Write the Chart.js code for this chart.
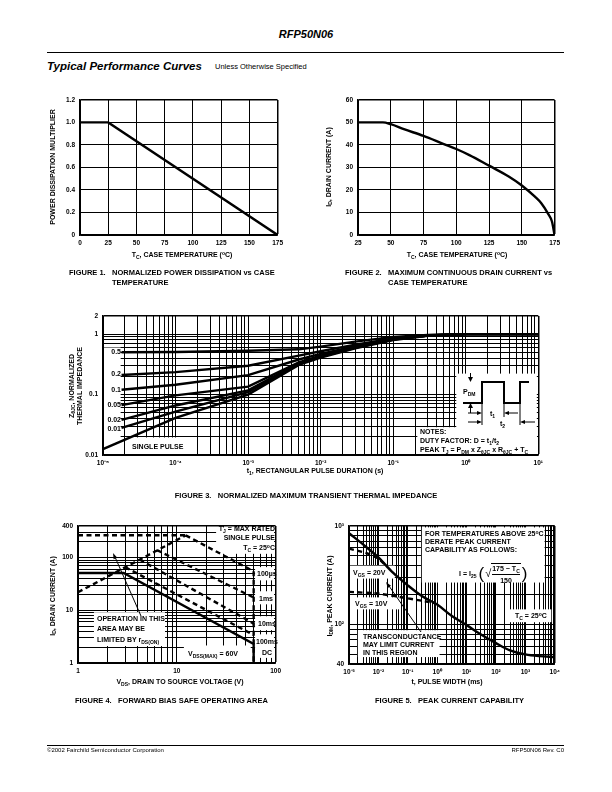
<!DOCTYPE html>
<html>
<head>
<meta charset="utf-8">
<script src="https://cdn.jsdelivr.net/npm/chart.js@4.4.1/dist/chart.umd.min.js"></script>
<style>
  body { margin: 0; background: #fff; }
  #page { position: relative; width: 612px; height: 792px; overflow: hidden; background: #fff;
          font-family: 'Liberation Sans', Arial, Helvetica, sans-serif; color: #000; }
  .t { position: absolute; font-weight: bold; font-size: 7px; line-height: 1; white-space: nowrap; }
  .c { transform: translateX(-50%); }
  .r { transform: translateX(-100%); }
  .v { transform: translate(-50%, -50%) rotate(-90deg); }
  .cap { position: absolute; display: flex; font-weight: bold; font-size: 7.5px; line-height: 10px; white-space: nowrap; }
  .cap .fn { width: 43px; }
  sub { font-size: 0.72em; vertical-align: -0.3em; line-height: 0; }
  sup { font-size: 0.72em; vertical-align: 0.45em; line-height: 0; }
  canvas { position: absolute; }
  svg { position: absolute; left: 0; top: 0; }
  .hr { position: absolute; left: 47px; width: 517px; background: #000; }
</style>
</head>
<body>
<div id="page">
  <div class="t c" style="left:306px;top:29px;font-size:11px;font-style:italic;">RFP50N06</div>
  <div class="hr" style="top:52px;height:1.2px;"></div>
  <div class="t" style="left:47px;top:60.5px;font-size:11.5px;font-style:italic;">Typical Performance Curves</div>
  <div class="t" style="left:215px;top:63px;font-size:7.5px;font-weight:normal;">Unless Otherwise Specified</div>

  <canvas id="fig1"></canvas>
  <canvas id="fig2"></canvas>
  <canvas id="fig3"></canvas>
  <canvas id="fig4"></canvas>
  <canvas id="fig5"></canvas>

  <svg width="612" height="792">
    <!-- pulse sketch in figure 3 -->
    <polyline points="463,403 482,403 482,382 504,382 504,403 520,403 520,382 529,382" fill="none" stroke="#000" stroke-width="2"/>
    <line x1="470.5" y1="373" x2="470.5" y2="379" stroke="#000" stroke-width="1"/>
    <polygon points="468,377 473,377 470.5,382" fill="#000"/>
    <line x1="470.5" y1="413" x2="470.5" y2="407" stroke="#000" stroke-width="1"/>
    <polygon points="468,408 473,408 470.5,403" fill="#000"/>
    <line x1="482" y1="403" x2="482" y2="425" stroke="#000" stroke-width="1"/>
    <line x1="504" y1="403" x2="504" y2="417" stroke="#000" stroke-width="1"/>
    <line x1="520" y1="403" x2="520" y2="425" stroke="#000" stroke-width="1"/>
    <line x1="468" y1="413" x2="478" y2="413" stroke="#000" stroke-width="1"/>
    <polygon points="477,411 482,413 477,415" fill="#000"/>
    <line x1="508" y1="413" x2="518" y2="413" stroke="#000" stroke-width="1"/>
    <polygon points="509,411 504,413 509,415" fill="#000"/>
    <line x1="468" y1="422" x2="478" y2="422" stroke="#000" stroke-width="1"/>
    <polygon points="477,420 482,422 477,424" fill="#000"/>
    <line x1="524" y1="422" x2="535" y2="422" stroke="#000" stroke-width="1"/>
    <polygon points="525,420 520,422 525,424" fill="#000"/>
    <!-- arrows -->
    <line x1="141" y1="616" x2="115" y2="557" stroke="#000" stroke-width="1"/>
    <polygon points="113,553 117.3,557.7 113.6,559.3" fill="#000"/>
    <line x1="421" y1="632" x2="389" y2="586" stroke="#000" stroke-width="1"/>
    <polygon points="386,582 391,585.8 387.8,588.1" fill="#000"/>
  </svg>

  <!-- figure 1 -->
  <div class="t v" style="left:52px;top:167px;">POWER DISSIPATION MULTIPLIER</div>
  <div class="t c" style="left:182px;top:251px;">T<sub>C</sub>, CASE TEMPERATURE (<sup>o</sup>C)</div>
  <div class="cap" style="left:69px;top:268px;"><span class="fn">FIGURE 1.</span><span>NORMALIZED POWER DISSIPATION vs CASE<br>TEMPERATURE</span></div>

  <!-- figure 2 -->
  <div class="t v" style="left:328px;top:167px;">I<sub>D</sub>, DRAIN CURRENT (A)</div>
  <div class="t c" style="left:457px;top:251px;">T<sub>C</sub>, CASE TEMPERATURE (<sup>o</sup>C)</div>
  <div class="cap" style="left:345px;top:268px;"><span class="fn">FIGURE 2.</span><span>MAXIMUM CONTINUOUS DRAIN CURRENT vs<br>CASE TEMPERATURE</span></div>

  <!-- figure 3 -->
  <div class="t v" style="left:71px;top:386px;">Z<sub>θJC</sub>, NORMALIZED</div>
  <div class="t v" style="left:79px;top:386px;">THERMAL IMPEDANCE</div>
  <div class="t r" style="left:121px;top:348px;">0.5</div>
  <div class="t r" style="left:121px;top:370px;">0.2</div>
  <div class="t r" style="left:121px;top:386px;">0.1</div>
  <div class="t r" style="left:121px;top:400.5px;">0.05</div>
  <div class="t r" style="left:121px;top:416px;">0.02</div>
  <div class="t r" style="left:121px;top:424.5px;">0.01</div>
  <div class="t" style="left:132px;top:442.5px;">SINGLE PULSE</div>
  <div class="t" style="left:463px;top:387.5px;">P<sub>DM</sub></div>
  <div class="t" style="left:490px;top:410px;">t<sub>1</sub></div>
  <div class="t" style="left:500px;top:420px;">t<sub>2</sub></div>
  <div class="t" style="left:420px;top:427.5px;">NOTES:</div>
  <div class="t" style="left:420px;top:436.5px;">DUTY FACTOR: D = t<sub>1</sub>/t<sub>2</sub></div>
  <div class="t" style="left:420px;top:445.5px;">PEAK T<sub>J</sub> = P<sub>DM</sub> x Z<sub>θJC</sub> x R<sub>θJC</sub> + T<sub>C</sub></div>
  <div class="t c" style="left:315px;top:467px;">t<sub>1</sub>, RECTANGULAR PULSE DURATION (s)</div>
  <div class="cap" style="left:306px;top:491px;transform:translateX(-50%);"><span class="fn">FIGURE 3.</span><span>NORMALIZED MAXIMUM TRANSIENT THERMAL IMPEDANCE</span></div>

  <!-- figure 4 -->
  <div class="t v" style="left:52px;top:596px;">I<sub>D</sub>, DRAIN CURRENT (A)</div>
  <div class="t r" style="left:275px;top:524.5px;">T<sub>J</sub> = MAX RATED</div>
  <div class="t r" style="left:275px;top:533.5px;">SINGLE PULSE</div>
  <div class="t r" style="left:275px;top:543.5px;">T<sub>C</sub> = 25<sup>o</sup>C</div>
  <div class="t" style="left:257px;top:569.5px;">100µs</div>
  <div class="t" style="left:259px;top:594.5px;">1ms</div>
  <div class="t" style="left:258px;top:619.5px;">10ms</div>
  <div class="t" style="left:256px;top:637.5px;">100ms</div>
  <div class="t" style="left:262px;top:648.5px;">DC</div>
  <div class="t" style="left:97px;top:614.5px;">OPERATION IN THIS</div>
  <div class="t" style="left:97px;top:624.5px;">AREA MAY BE</div>
  <div class="t" style="left:97px;top:635.5px;">LIMITED BY r<sub>DS(ON)</sub></div>
  <div class="t" style="left:188px;top:649.5px;">V<sub>DSS(MAX)</sub> = 60V</div>
  <div class="t c" style="left:180px;top:678px;">V<sub>DS</sub>, DRAIN TO SOURCE VOLTAGE (V)</div>
  <div class="cap" style="left:75px;top:696px;"><span class="fn">FIGURE 4.</span><span>FORWARD BIAS SAFE OPERATING AREA</span></div>

  <!-- figure 5 -->
  <div class="t v" style="left:329px;top:596px;">I<sub>DM</sub>, PEAK CURRENT (A)</div>
  <div class="t" style="left:425px;top:529.5px;">FOR TEMPERATURES ABOVE 25<sup>o</sup>C</div>
  <div class="t" style="left:425px;top:537.5px;">DERATE PEAK CURRENT</div>
  <div class="t" style="left:425px;top:545.5px;">CAPABILITY AS FOLLOWS:</div>
  <div class="t" style="left:459px;top:563px;display:flex;align-items:center;">
    <span>I = I<sub>25</sub></span>
    <span style="font-size:17px;font-weight:normal;margin:0 1px 0 2px;">(</span>
    <span style="font-size:11px;font-weight:normal;">√</span>
    <span style="display:inline-flex;flex-direction:column;align-items:center;border-top:0.8px solid #000;padding:1px 1px 0;">
      <span>175 − T<sub>C</sub></span>
      <span style="border-top:0.8px solid #000;padding-top:2px;margin-top:2px;width:100%;text-align:center;">150</span>
    </span>
    <span style="font-size:17px;font-weight:normal;margin-left:1px;">)</span>
  </div>
  <div class="t" style="left:353px;top:568.5px;">V<sub>GS</sub> = 20V</div>
  <div class="t" style="left:355px;top:599.5px;">V<sub>GS</sub> = 10V</div>
  <div class="t" style="left:515px;top:611.5px;">T<sub>C</sub> = 25<sup>o</sup>C</div>
  <div class="t" style="left:363px;top:632.5px;">TRANSCONDUCTANCE</div>
  <div class="t" style="left:363px;top:640.5px;">MAY LIMIT CURRENT</div>
  <div class="t" style="left:363px;top:648.5px;">IN THIS REGION</div>
  <div class="t c" style="left:447px;top:678px;">t, PULSE WIDTH (ms)</div>
  <div class="cap" style="left:375px;top:696px;"><span class="fn">FIGURE 5.</span><span>PEAK CURRENT CAPABILITY</span></div>

  <div class="hr" style="top:745px;height:1px;"></div>
  <div class="t" style="left:47px;top:747px;font-size:6px;font-weight:normal;">©2002 Fairchild Semiconductor Corporation</div>
  <div class="t r" style="left:564px;top:747px;font-size:6px;font-weight:normal;">RFP50N06 Rev. C0</div>
</div>

<script>
// ---- figure 1: power derating
const fig1Temp = [0, 25, 175];
const fig1Mult = [1.0, 1.0, 0];
const fig1XTicks = [0, 25, 50, 75, 100, 125, 150, 175];
const fig1XLabels = ['0', '25', '50', '75', '100', '125', '150', '175'];
const fig1YTicks = [0, 0.2, 0.4, 0.6, 0.8, 1.0, 1.2];
const fig1YLabels = ['0', '0.2', '0.4', '0.6', '0.8', '1.0', '1.2'];

// ---- figure 2: drain current vs case temperature
const fig2Temp = [25, 44, 50, 60, 75, 90, 100, 110, 125, 140, 150, 160, 165, 170, 173, 175];
const fig2Id = [50, 50, 49.2, 47, 44, 40.5, 38.2, 35.5, 30.8, 26, 22, 17, 14, 9.5, 6, 0];
const fig2XTicks = [25, 50, 75, 100, 125, 150, 175];
const fig2XLabels = ['25', '50', '75', '100', '125', '150', '175'];
const fig2YTicks = [0, 10, 20, 30, 40, 50, 60];
const fig2YLabels = ['0', '10', '20', '30', '40', '50', '60'];

// ---- figure 3: transient thermal impedance
const fig3Time = [1.8e-5, 1e-4, 1e-3, 5e-3, 1e-2, 3e-2, 1e-1, 3e-1, 1, 10];
const fig3D05 = [0.50, 0.505, 0.53, 0.56, 0.62, 0.75, 0.90, 0.97, 1.0, 1.0];
const fig3D02 = [0.21, 0.235, 0.30, 0.44, 0.52, 0.67, 0.85, 0.96, 1.0, 1.0];
const fig3D01 = [0.12, 0.145, 0.21, 0.38, 0.47, 0.63, 0.83, 0.95, 1.0, 1.0];
const fig3D005 = [0.067, 0.097, 0.135, 0.34, 0.44, 0.61, 0.82, 0.95, 1.0, 1.0];
const fig3D002 = [0.038, 0.066, 0.117, 0.33, 0.43, 0.60, 0.82, 0.95, 1.0, 1.0];
const fig3D001 = [0.028, 0.052, 0.11, 0.32, 0.42, 0.59, 0.81, 0.95, 1.0, 1.0];
const fig3SingleTime = [1e-5, 1e-4, 1e-3, 5e-3, 1e-2, 3e-2, 1e-1, 3e-1, 1, 10];
const fig3Single = [0.0125, 0.041, 0.10, 0.31, 0.41, 0.58, 0.80, 0.94, 1.0, 1.0];
const fig3XLabelVals = [1e-5, 1e-4, 1e-3, 1e-2, 1e-1, 1, 10];
const fig3XLabels = ['10⁻⁵', '10⁻⁴', '10⁻³', '10⁻²', '10⁻¹', '10⁰', '10¹'];
const fig3YLabelVals = [0.01, 0.1, 1, 2];
const fig3YLabels = ['0.01', '0.1', '1', '2'];

// ---- figure 4: safe operating area
const fig4RdsV = [1, 12.3], fig4RdsI = [22, 265];
const fig4IdmV = [1, 12.3], fig4IdmI = [265, 265];
const fig4Us100V = [12.3, 60], fig4Us100I = [265, 55];
const fig4Ms1V = [6.3, 60], fig4Ms1I = [139, 17.5];
const fig4Ms10V = [4.2, 60], fig4Ms10I = [92, 5.6];
const fig4Ms100V = [3.0, 60], fig4Ms100I = [66, 3.4];
const fig4DcV = [1, 2.9, 60, 60], fig4DcI = [51, 51, 2.3, 1];
const fig4VmaxV = [60, 60], fig4VmaxI = [55, 1];
const fig4XLabelVals = [1, 10, 100];
const fig4XLabels = ['1', '10', '100'];
const fig4YLabelVals = [1, 10, 100, 400];
const fig4YLabels = ['1', '10', '100', '400'];

// ---- figure 5: peak current capability
const fig5Time = [1e-3, 3e-3, 1e-2, 3e-2, 1e-1, 3e-1, 1, 3, 10, 30, 100, 300, 1000, 3000, 1e4];
const fig5Tc25 = [845, 650, 480, 340, 250, 195, 160, 124, 99, 80, 65, 55, 50, 48, 47];
const fig5Vgs20Time = [1e-3, 4e-3, 1e-2, 2e-2];
const fig5Vgs20 = [590, 530, 470, 386];
const fig5Vgs10Time = [1e-3, 1e-2, 1e-1, 8e-1];
const fig5Vgs10 = [215, 207, 185, 166];
const fig5XLabelVals = [1e-3, 1e-2, 1e-1, 1, 10, 100, 1000, 1e4];
const fig5XLabels = ['10⁻³', '10⁻²', '10⁻¹', '10⁰', '10¹', '10²', '10³', '10⁴'];
const fig5YLabelVals = [40, 100, 1000];
const fig5YLabels = ['40', '10²', '10³'];

// plot boxes on the page (left, top, right, bottom of the plot area)
const YW = 30, XH = 16, PT = 8, PR = 8;
const TICK_FONT = { family: "'Liberation Sans', Arial, sans-serif", size: 6.5, weight: 'bold' };
const DASH = [5, 3.5];

Chart.defaults.color = '#000';

// log grid: 1..9 in every decade between min and max
function logGrid(min, max) {
    const out = [];
    for (let e = Math.floor(Math.log10(min)); e <= Math.ceil(Math.log10(max)); e++) {
        for (let m = 1; m <= 9; m++) {
            const v = +(m * Math.pow(10, e)).toPrecision(6);
            if (v >= min * 0.999999 && v <= max * 1.000001) out.push(v);
        }
    }
    return out;
}

function axis(type, min, max, gridVals, labelVals, labels, isX) {
    return {
        type, min, max,
        border: { color: '#000', width: 1.5 },
        grid: {
            color: '#000', drawTicks: false,
            lineWidth: (c) => (c.index === gridVals.length - 1 ? 1.5 : 1)
        },
        ticks: {
            font: TICK_FONT, color: '#000', padding: isX ? 4 : 5,
            autoSkip: false, maxRotation: 0, minRotation: 0,
            callback: (v) => {
                const i = labelVals.findIndex(u => Math.abs(u - v) <= Math.abs(v) * 1e-6 + 1e-12);
                return i < 0 ? '' : labels[i];
            }
        },
        afterBuildTicks: (s) => { s.ticks = gridVals.map(v => ({ value: v })); },
        afterFit: (s) => { if (isX) s.height = XH; else s.width = YW; }
    };
}

const zip = (xs, ys) => xs.map((x, i) => ({ x, y: ys[i] }));

function curve(xs, ys, extra) {
    return Object.assign({
        data: zip(xs, ys), borderColor: '#000', borderWidth: 2.4,
        pointRadius: 0, showLine: true, fill: false, tension: 0
    }, extra || {});
}

// white label panels, given in data units [x1, x2, y1, y2]; grid goes under, curves over
const whiteBoxes = (boxes) => ({
    id: 'whiteBoxes',
    beforeDatasetsDraw(chart) {
        const { ctx, chartArea: a, scales: { x, y } } = chart;
        ctx.save();
        ctx.fillStyle = '#fff';
        boxes.forEach(b => {
            const x1 = Math.max(x.getPixelForValue(b[0]), a.left + 1);
            const x2 = Math.min(x.getPixelForValue(b[1]), a.right - 1.5);
            const y1 = Math.max(y.getPixelForValue(b[3]), a.top + 1.5);
            const y2 = Math.min(y.getPixelForValue(b[2]), a.bottom - 1);
            ctx.fillRect(x1, y1, x2 - x1, y2 - y1);
        });
        ctx.restore();
    }
});

function plot(id, box, xAxis, yAxis, datasets, boxes) {
    const cv = document.getElementById(id);
    cv.width = box.r - box.l + YW + PR;
    cv.height = box.b - box.t + PT + XH;
    cv.style.left = (box.l - YW) + 'px';
    cv.style.top = (box.t - PT) + 'px';
    return new Chart(cv, {
        type: 'scatter',
        data: { datasets },
        options: {
            responsive: false, animation: false, events: [],
            layout: { autoPadding: false, padding: { top: PT, right: PR, bottom: 0, left: 0 } },
            plugins: { legend: { display: false }, tooltip: { enabled: false } },
            scales: { x: xAxis, y: yAxis }
        },
        plugins: [whiteBoxes(boxes || [])]
    });
}

// 1. Normalized power dissipation
plot('fig1', { l: 80, t: 99, r: 279, b: 235 },
    axis('linear', 0, 175, fig1XTicks, fig1XTicks, fig1XLabels, true),
    axis('linear', 0, 1.2, fig1YTicks, fig1YTicks, fig1YLabels, false),
    [curve(fig1Temp, fig1Mult)]);

// 2. Drain current vs case temperature
plot('fig2', { l: 358, t: 99, r: 556, b: 235 },
    axis('linear', 25, 175, fig2XTicks, fig2XTicks, fig2XLabels, true),
    axis('linear', 0, 60, fig2YTicks, fig2YTicks, fig2YLabels, false),
    [curve(fig2Temp, fig2Id, { cubicInterpolationMode: 'monotone' })]);

// 3. Transient thermal impedance
plot('fig3', { l: 103, t: 315, r: 539, b: 455 },
    axis('logarithmic', 1e-5, 10, logGrid(1e-5, 10), fig3XLabelVals, fig3XLabels, true),
    axis('logarithmic', 0.01, 2, logGrid(0.01, 2), fig3YLabelVals, fig3YLabels, false),
    [
        curve(fig3Time, fig3D05),
        curve(fig3Time, fig3D02),
        curve(fig3Time, fig3D01),
        curve(fig3Time, fig3D005),
        curve(fig3Time, fig3D002),
        curve(fig3Time, fig3D001),
        curve(fig3SingleTime, fig3Single)
    ],
    [[1e-5, 1.75e-5, 0.0195, 0.6], [2.05e-5, 1.12e-4, 0.01, 0.0195],
     [0.74, 10, 0.01, 0.222], [0.215, 10, 0.01, 0.0288]]);

// 4. Forward bias safe operating area
plot('fig4', { l: 78, t: 525, r: 277, b: 663 },
    axis('logarithmic', 1, 100, logGrid(1, 100), fig4XLabelVals, fig4XLabels, true),
    axis('logarithmic', 1, 400, logGrid(1, 400), fig4YLabelVals, fig4YLabels, false),
    [
        curve(fig4RdsV, fig4RdsI, { borderDash: DASH }),
        curve(fig4IdmV, fig4IdmI, { borderDash: DASH }),
        curve(fig4Us100V, fig4Us100I, { borderDash: DASH }),
        curve(fig4Ms1V, fig4Ms1I, { borderDash: DASH }),
        curve(fig4Ms10V, fig4Ms10I, { borderDash: DASH }),
        curve(fig4Ms100V, fig4Ms100I, { borderDash: DASH }),
        curve(fig4VmaxV, fig4VmaxI, { borderDash: DASH }),
        curve(fig4DcV, fig4DcI)
    ],
    [[25, 100, 118, 400], [62, 100, 37, 66], [62, 100, 13, 23], [62, 100, 4.2, 7.7],
     [62, 100, 1.25, 3.5], [1.45, 7.6, 2.1, 9.2], [11.8, 56, 1, 2.15]]);

// 5. Peak current capability
plot('fig5', { l: 349, t: 525, r: 556, b: 664 },
    axis('logarithmic', 1e-3, 1e4, logGrid(1e-3, 1e4), fig5XLabelVals, fig5XLabels, true),
    axis('logarithmic', 40, 1000, logGrid(40, 1000), fig5YLabelVals, fig5YLabels, false),
    [
        curve(fig5Time, fig5Tc25, { cubicInterpolationMode: 'monotone' }),
        curve(fig5Vgs20Time, fig5Vgs20, { borderDash: DASH }),
        curve(fig5Vgs10Time, fig5Vgs10, { borderDash: DASH })
    ],
    [[0.3, 4500, 267, 1000], [1.08e-3, 3.6e-2, 293, 396], [1.1e-3, 5.3e-2, 143, 189],
     [287, 7600, 106, 143], [2.0e-3, 1.2, 47, 88]]);
</script>
</body>
</html>
